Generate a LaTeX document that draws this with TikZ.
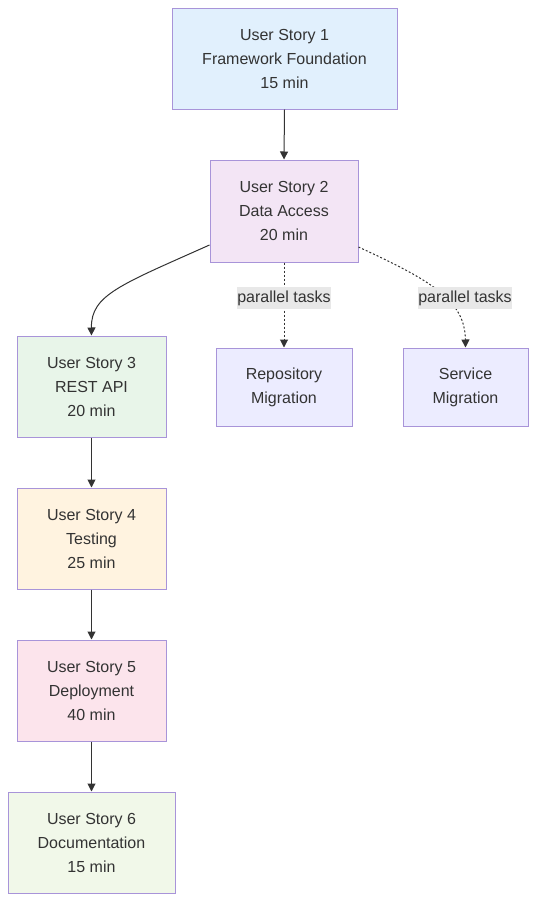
\documentclass[tikz,border=0pt]{standalone}
\usepackage{fontspec}
\setmainfont{Liberation Sans}
\usetikzlibrary{arrows.meta}
\definecolor{bord}{HTML}{A894D9}
\definecolor{txt}{HTML}{333333}
\definecolor{cA}{HTML}{E1F0FD}
\definecolor{cB}{HTML}{F3E5F5}
\definecolor{cC}{HTML}{E8F5E9}
\definecolor{cD}{HTML}{FFF3E0}
\definecolor{cE}{HTML}{FCE4EC}
\definecolor{cF}{HTML}{F1F8E9}
\definecolor{cG}{HTML}{ECECFF}
\definecolor{lbl}{HTML}{E8E8E8}
\tikzset{
  box/.style={draw=bord, line width=1pt, rectangle, align=center, text=txt,
    font=\fontsize{16}{24}\selectfont, inner sep=0pt},
  conn/.style={draw=txt, line width=1pt, -{Triangle[length=8pt,width=8pt]}},
  dotconn/.style={conn, dash pattern=on 2pt off 2pt},
  elabel/.style={fill=lbl, text=txt, font=\fontsize{16}{20}\selectfont, inner xsep=0.5pt, inner ysep=0pt, minimum height=22pt}
}
\begin{document}
\begin{tikzpicture}[x=1pt,y=-1pt]
\useasboundingbox (0,0) rectangle (537,902);
\node[box, fill=cA, minimum width=225pt, minimum height=101pt] (us1) at (284.5,58.5) {User Story 1\\Framework Foundation\\15 min};
\node[box, fill=cB, minimum width=148pt, minimum height=102pt] (us2) at (284,211) {User Story 2\\Data Access\\20 min};
\node[box, fill=cC, minimum width=149pt, minimum height=101pt] (us3) at (91.5,386.5) {User Story 3\\REST API\\20 min};
\node[box, fill=cG, minimum width=136pt, minimum height=78pt] (repo) at (284,387) {Repository\\Migration};
\node[box, fill=cG, minimum width=125pt, minimum height=78pt] (serv) at (465.5,387) {Service\\Migration};
\node[box, fill=cD, minimum width=149pt, minimum height=101pt] (us4) at (91.5,538.5) {User Story 4\\Testing\\25 min};
\node[box, fill=cE, minimum width=149pt, minimum height=101pt] (us5) at (91.5,690.5) {User Story 5\\Deployment\\40 min};
\node[box, fill=cF, minimum width=167pt, minimum height=101pt] (us6) at (91.5,842.5) {User Story 6\\Documentation\\15 min};

\draw[conn] (us1.south) -- (us2.north);
\draw[conn] ([yshift=-34pt]us2.west) .. controls (120,285) and (91,295) .. (us3.north);
\draw[dotconn] (us2.south) -- (repo.north);
\node[elabel] (l1) at (284,298) {parallel tasks};
\draw[dotconn] ([yshift=-36pt]us2.east) .. controls (430,280) and (465,300) .. (serv.north);
\node[elabel] (l2) at (465,298) {parallel tasks};
\draw[conn] (us3.south) -- (us4.north);
\draw[conn] (us4.south) -- (us5.north);
\draw[conn] (us5.south) -- (us6.north);
\end{tikzpicture}
\end{document}
